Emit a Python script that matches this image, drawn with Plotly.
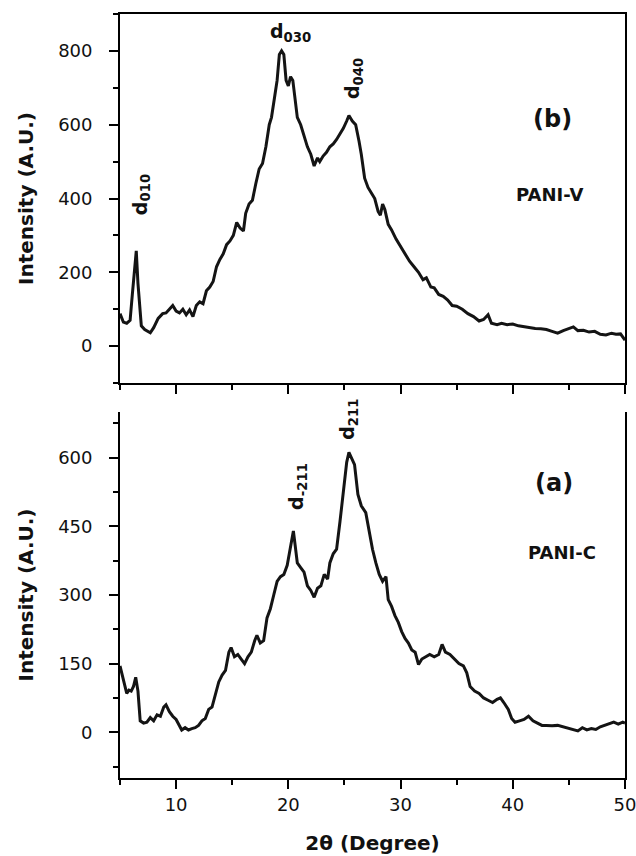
import plotly.graph_objects as go

# PANI-V (panel b, top)
v_x = [5.0,5.3,5.6,5.9,6.1,6.3,6.45,6.6,6.75,6.9,7.2,7.5,7.7,8.0,8.4,8.8,9.1,9.4,9.7,10.0,
       10.3,10.6,10.9,11.2,11.5,11.8,12.1,12.4,12.7,13.0,13.3,13.6,13.9,14.2,14.5,14.8,15.1,15.4,15.7,16.0,
       16.2,16.5,16.8,17.1,17.4,17.7,18.0,18.3,18.5,18.8,19.0,19.2,19.4,19.6,19.8,20.0,20.2,20.4,20.6,20.8,
       21.1,21.4,21.7,22.0,22.3,22.6,22.8,23.1,23.4,23.7,24.0,24.3,24.6,24.9,25.2,25.4,25.7,26.0,26.3,26.5,
       26.8,27.1,27.4,27.7,28.0,28.2,28.4,28.6,28.9,29.2,29.6,30.0,30.4,30.8,31.2,31.6,32.0,32.3,32.7,33.0,
       33.4,33.8,34.2,34.6,35.0,35.5,36.0,36.5,37.0,37.4,37.8,38.1,38.6,39.0,39.5,40.0,40.5,41.0,41.5,42.0,
       42.5,43.0,43.5,44.0,44.5,45.0,45.4,45.8,46.3,46.8,47.3,47.8,48.3,48.8,49.2,49.6,50.0]
v_y = [88,65,62,70,140,200,258,170,100,55,45,40,36,50,75,88,90,100,110,95,
       90,100,85,98,80,110,120,115,150,160,175,215,235,250,275,285,300,335,320,312,
       360,385,395,440,480,495,540,600,620,680,720,790,800,790,720,705,730,720,660,620,
       600,570,540,520,488,510,500,515,525,540,548,560,575,590,610,625,610,600,555,520,
       455,430,415,400,365,355,385,370,330,315,290,270,250,230,215,200,180,185,160,158,
       140,135,125,110,108,100,88,80,68,72,85,62,58,62,58,60,55,52,50,48,
       47,45,40,35,42,48,52,42,43,38,40,32,30,35,32,33,16]

# PANI-C (panel a, bottom)
c_x = [5.0,5.2,5.4,5.6,5.8,6.0,6.2,6.4,6.6,6.8,7.1,7.4,7.7,8.0,8.3,8.6,8.9,9.1,9.4,9.7,
       10.0,10.3,10.5,10.8,11.1,11.4,11.7,12.0,12.3,12.6,12.9,13.2,13.5,13.8,14.1,14.4,14.7,14.9,15.2,15.5,
       15.8,16.1,16.4,16.7,17.0,17.2,17.5,17.8,18.1,18.4,18.7,19.0,19.3,19.6,19.9,20.1,20.3,20.45,20.6,20.8,
       21.1,21.4,21.7,22.0,22.3,22.6,22.9,23.2,23.5,23.7,24.0,24.3,24.6,24.9,25.2,25.4,25.6,25.9,26.2,26.5,
       26.9,27.2,27.5,27.8,28.1,28.4,28.7,28.9,29.2,29.5,29.8,30.1,30.4,30.7,31.0,31.3,31.6,31.9,32.2,32.6,
       33.0,33.4,33.7,34.0,34.4,34.8,35.2,35.6,35.9,36.2,36.6,37.0,37.4,37.8,38.2,38.6,38.9,39.2,39.6,39.9,
       40.2,40.6,41.0,41.4,41.8,42.2,42.6,43.0,43.5,44.0,44.5,45.0,45.5,45.8,46.2,46.6,47.0,47.4,47.8,48.2,
       48.6,49.0,49.4,49.8,50.0]
c_y = [145,125,105,85,92,90,100,120,90,25,20,22,32,25,38,35,55,60,45,35,
       28,15,5,10,5,8,10,15,25,30,50,55,80,110,125,135,175,185,165,170,
       160,150,165,175,200,212,195,200,250,270,300,330,340,345,365,390,420,440,410,370,
       360,350,320,310,295,315,320,345,335,370,390,400,460,530,590,612,600,585,520,495,
       480,440,400,370,345,330,340,290,275,255,240,220,205,195,180,175,148,160,165,170,
       165,170,192,175,170,160,150,145,130,100,90,85,75,70,65,72,75,65,50,30,
       22,25,28,35,25,20,15,15,14,15,12,8,5,3,10,5,8,6,12,15,
       18,22,18,22,20]

FONT = "DejaVu Sans"
LINE = "#141414"

fig = go.Figure()
fig.add_trace(go.Scatter(x=c_x, y=c_y, mode="lines", line=dict(color=LINE, width=3),
                         xaxis="x", yaxis="y", showlegend=False))
fig.add_trace(go.Scatter(x=v_x, y=v_y, mode="lines", line=dict(color=LINE, width=3),
                         xaxis="x2", yaxis="y2", showlegend=False))

xdom = [120/636, 625/636]
axis_common = dict(showline=True, linecolor="black", linewidth=1.8, ticks="outside",
                   tickwidth=1.5, ticklen=9, tickcolor="black", showgrid=False, zeroline=False,
                   automargin=False, ticklabeloverflow="allow",
                   tickfont=dict(family=FONT, size=18, color="#111"))
minor_common = dict(ticks="outside", ticklen=5, tickwidth=1.5, tickcolor="black")
title_font = dict(family=FONT, size=20, color="#111", weight="bold")

fig.update_layout(
    width=636, height=856, margin=dict(l=0, r=0, t=0, b=0, autoexpand=False),
    paper_bgcolor="white", plot_bgcolor="white",
    xaxis=dict(domain=xdom, range=[5, 50], anchor="y", tick0=10, dtick=10,
               minor=dict(tick0=5, dtick=5, **minor_common),
               title=dict(text="2θ (Degree)", standoff=22, font=title_font),
               **axis_common),
    yaxis=dict(domain=[1-778/856, 1-412/856], range=[-100, 700], anchor="x", tick0=0, dtick=150,
               mirror=True, ticklabelstandoff=13,
               minor=dict(tick0=0, dtick=75, **minor_common),
               title=dict(text="Intensity (A.U.)", standoff=19, font=title_font),
               **axis_common),
    xaxis2=dict(domain=xdom, range=[5, 50], anchor="y2", tick0=10, dtick=10, mirror=True,
                showticklabels=False,
                minor=dict(tick0=5, dtick=5, **minor_common),
                **axis_common),
    yaxis2=dict(domain=[1-383/856, 1-14/856], range=[-100, 900], anchor="x2", tick0=0, dtick=200,
                mirror=True, ticklabelstandoff=13,
                minor=dict(tick0=0, dtick=100, **minor_common),
                title=dict(text="Intensity (A.U.)", standoff=19, font=title_font),
                **axis_common),
)

bold = dict(family=FONT, color="#111", weight="bold")
ann = [
    dict(x=6.9, y=410, xref="x2", yref="y2", text="d<sub>010</sub>", textangle=-90, font=dict(size=19, **bold)),
    dict(x=20.2, y=850, xref="x2", yref="y2", text="d<sub>030</sub>", textangle=0, font=dict(size=19, **bold)),
    dict(x=25.8, y=725, xref="x2", yref="y2", text="d<sub>040</sub>", textangle=-90, font=dict(size=19, **bold)),
    dict(x=43.5, y=615, xref="x2", yref="y2", text="(b)", font=dict(size=24, **bold)),
    dict(x=43.3, y=410, xref="x2", yref="y2", text="PANI-V", font=dict(size=18, **bold)),
    dict(x=20.8, y=537, xref="x", yref="y", text="d<sub>-211</sub>", textangle=-90, font=dict(size=19, **bold)),
    dict(x=25.4, y=685, xref="x", yref="y", text="d<sub>211</sub>", textangle=-90, font=dict(size=19, **bold)),
    dict(x=43.7, y=545, xref="x", yref="y", text="(a)", font=dict(size=24, **bold)),
    dict(x=44.4, y=393, xref="x", yref="y", text="PANI-C", font=dict(size=18, **bold)),
]
for a in ann:
    a["showarrow"] = False
fig.update_layout(annotations=ann)

fig.write_html("out.html", config={"displayModeBar": False},
               post_script="document.body.style.margin='0';document.body.style.padding='0';")
